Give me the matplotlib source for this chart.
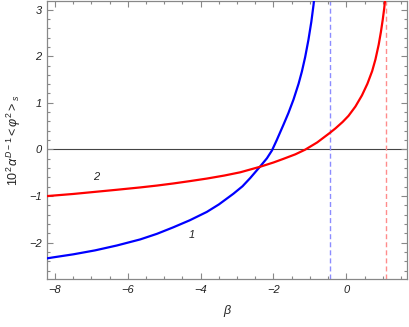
import matplotlib
matplotlib.use("Agg")
import matplotlib.pyplot as plt
from matplotlib.ticker import MultipleLocator

plt.rcParams['font.family'] = ['Liberation Sans', 'DejaVu Sans']
plt.rcParams['mathtext.fontset'] = 'custom'
plt.rcParams['mathtext.rm'] = 'Liberation Sans'
plt.rcParams['mathtext.it'] = 'Liberation Sans:italic'

# Curve 1 (blue)
beta_1 = [-8.21, -8.05, -7.5, -6.90, -6.3, -5.66, -5.2, -4.75, -4.3, -3.83,
          -3.5, -3.10, -2.85, -2.64, -2.36, -2.18, -2.04, -1.91, -1.72, -1.59,
          -1.45, -1.31, -1.22, -1.13, -1.04, -0.96, -0.90, -0.88]
phi_1 = [-2.335, -2.315, -2.25, -2.165, -2.06, -1.93, -1.81, -1.67, -1.52, -1.34,
         -1.18, -0.95, -0.79, -0.615, -0.36, -0.19, -0.02, 0.20, 0.54, 0.78,
         1.07, 1.41, 1.67, 1.98, 2.35, 2.74, 3.10, 3.25]

# Curve 2 (red)
beta_2 = [-8.21, -8.05, -7.5, -6.90, -6.3, -5.66, -5.2, -4.75, -4.3, -3.83,
          -3.35, -2.91, -2.36, -2.0, -1.72, -1.40, -1.13, -0.80, -0.46, -0.30,
          -0.10, 0.06, 0.25, 0.43, 0.58, 0.71, 0.80, 0.89, 0.95, 1.00, 1.04, 1.07]
phi_2 = [-1.00, -0.99, -0.955, -0.91, -0.865, -0.815, -0.775, -0.73, -0.68, -0.625,
         -0.56, -0.49, -0.37, -0.28, -0.20, -0.105, -0.005, 0.15, 0.35, 0.45,
         0.59, 0.72, 0.92, 1.16, 1.41, 1.68, 1.93, 2.25, 2.52, 2.78, 3.02, 3.24]

# Asymptotes
asym_1 = -0.46
asym_2 = 1.10

curve_labels = ["1", "2"]
label_pos_1 = (-4.23, -1.84)
label_pos_2 = (-6.87, -0.60)

xticks = [-8, -6, -4, -2, 0]
yticks = [-2, -1, 0, 1, 2, 3]

fig = plt.figure(figsize=(4.09, 3.27), dpi=100)
ax = fig.add_axes([0.1157, 0.1459, 0.8806, 0.852])

ax.axhline(0, color='#444444', lw=0.8, zorder=1)
ax.axvline(asym_1, color='#8c8cff', lw=1.0, dashes=(3.6, 2.2), zorder=1)
ax.axvline(asym_2, color='#ff8c8c', lw=1.0, dashes=(3.6, 2.2), zorder=1)

ax.plot(beta_1, phi_1, color='#0000ff', lw=1.6, zorder=3, solid_joinstyle='round')
ax.plot(beta_2, phi_2, color='#ff0000', lw=1.6, zorder=3, solid_joinstyle='round')

ax.text(*label_pos_1, curve_labels[0], fontsize=8, style='italic', ha='center', va='center', color='#222222')
ax.text(*label_pos_2, curve_labels[1], fontsize=8, style='italic', ha='center', va='center', color='#222222')

ax.set_xlim(-8.21, 1.68)
ax.set_ylim(-2.785, 3.19)

ax.set_xticks(xticks)
ax.set_yticks(yticks)
ax.set_xticklabels([f"\u2212{abs(t)}" if t < 0 else str(t) for t in xticks], style='italic')
ax.set_yticklabels([f"\u2212{abs(t)}" if t < 0 else str(t) for t in yticks], style='italic')
ax.xaxis.set_minor_locator(MultipleLocator(0.5))
ax.yaxis.set_minor_locator(MultipleLocator(0.2))
ax.tick_params(which='both', direction='in', top=True, right=True, color='#888888',
               labelsize=8, labelcolor='#222222', width=0.8)
ax.tick_params(which='major', length=4.5, pad=4)
ax.tick_params(which='minor', length=2.5)
for s in ax.spines.values():
    s.set_color('#888888')
    s.set_linewidth(0.9)

ax.set_xlabel(r'$\beta$', fontsize=9, color='#222222', labelpad=6)
ax.set_ylabel(r'$10^2\,\alpha^{D-1}<\varphi^2>_s$', fontsize=9, color='#222222', labelpad=4)

fig.savefig('out.png', dpi=100)
